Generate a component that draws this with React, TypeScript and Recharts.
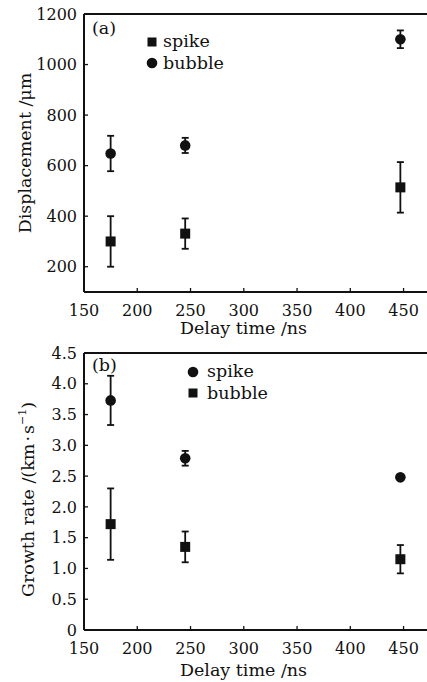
import React from "react";
import {
  ScatterChart,
  Scatter,
  XAxis,
  YAxis,
  ErrorBar,
  ReferenceLine,
} from "recharts";

const delayTimes = [175, 245, 447];
const xTicks = [150, 200, 250, 300, 350, 400, 450];

// panel (a) displacement
const dispSpike = [300, 331, 514];
const dispSpikeErr = [100, 60, 100];
const dispBubble = [648, 680, 1100];
const dispBubbleErr = [70, 30, 35];
const dispTicks = [200, 400, 600, 800, 1000, 1200];

// panel (b) growth rate
const rateSpike = [3.73, 2.79, 2.48];
const rateSpikeErr = [0.4, 0.12, 0.04];
const rateBubble = [1.72, 1.35, 1.15];
const rateBubbleErr = [0.58, 0.25, 0.23];
const rateTicks = [0, 0.5, 1, 1.5, 2, 2.5, 3, 3.5, 4, 4.5];

const INK = "#111";
const FONT = "'DejaVu Serif', serif";

const toPoints = (ys: number[], errs: number[]) =>
  delayTimes.map((x, i) => ({ x, y: ys[i], err: errs[i] }));

const SquareDot = (props: any) => {
  const { cx, cy } = props;
  if (cx == null || cy == null) return null;
  return <rect x={cx - 5} y={cy - 5} width={10} height={10} fill={INK} />;
};

const CircleDot = (props: any) => {
  const { cx, cy } = props;
  if (cx == null || cy == null) return null;
  return <circle cx={cx} cy={cy} r={5.3} fill={INK} />;
};

function LegendBox({
  items,
  gap,
  left,
  top,
}: {
  items: { name: string; shape: "square" | "circle" }[];
  gap: number;
  left: number;
  top: number;
}) {
  return (
    <div
      style={{
        position: "absolute",
        left,
        top,
        fontFamily: FONT,
        fontSize: 17.5,
        color: INK,
      }}
    >
      {items.map((it) => (
        <div
          key={it.name}
          style={{ display: "flex", alignItems: "center", height: 21.5 }}
        >
          <svg width={14} height={14} style={{ marginRight: gap }}>
            {it.shape === "square" ? (
              <rect x={2.5} y={2.5} width={9} height={9} fill={INK} />
            ) : (
              <circle cx={7} cy={7} r={5.3} fill={INK} />
            )}
          </svg>
          <span style={{ lineHeight: "21px" }}>{it.name}</span>
        </div>
      ))}
    </div>
  );
}

const yLabel = (text: React.ReactNode, dxPos: number, shift: number) => (props: any) => {
  const vb = props.viewBox;
  const x = vb.x + dxPos;
  const y = vb.y + vb.height / 2 + shift;
  return (
    <text
      x={x}
      y={y}
      transform={`rotate(-90, ${x}, ${y})`}
      textAnchor="middle"
      dominantBaseline="central"
      fontFamily={FONT}
      fontSize={17.5}
      fill={INK}
    >
      {text}
    </text>
  );
};

const tickStyle = { fontFamily: FONT, fontSize: 16, fill: INK };

function Panel({
  top,
  height,
  marginTop,
  xAxisHeight,
  yDomain,
  yTicks,
  yFmt,
  yTitle,
  yTitleX,
  yTitleShift,
  tag,
  series,
  legendItems,
  legendLeft,
  legendTop,
  legendGap,
}: any) {
  return (
    <div style={{ position: "absolute", left: 0, top, width: 427, height }}>
      <ScatterChart
        width={427}
        height={height}
        margin={{ top: marginTop, right: 0, bottom: 0, left: 0 }}
        style={{ fontFamily: FONT }}
      >
        <XAxis
          type="number"
          dataKey="x"
          domain={[150, 472]}
          ticks={xTicks}
          allowDataOverflow
          height={xAxisHeight}
          tick={tickStyle}
          tickSize={-4}
          tickMargin={17}
          axisLine={{ stroke: INK, strokeWidth: 2 }}
          tickLine={{ stroke: INK, strokeWidth: 1.3 }}
          label={{
            value: "Delay time /ns",
            position: "insideBottom",
            offset: 6,
            dx: -12,
            style: { fontFamily: FONT, fontSize: 17.5, fill: INK },
          }}
        />
        <YAxis
          type="number"
          dataKey="y"
          domain={yDomain}
          ticks={yTicks}
          allowDataOverflow
          width={84}
          tick={tickStyle}
          tickFormatter={yFmt}
          tickSize={-4}
          tickMargin={11}
          axisLine={{ stroke: INK, strokeWidth: 2 }}
          tickLine={{ stroke: INK, strokeWidth: 1.3 }}
          label={{ content: yLabel(yTitle, yTitleX, yTitleShift) }}
        />
        <ReferenceLine y={yDomain[1]} stroke={INK} strokeWidth={2} />
        {series.map((s: any) => (
          <Scatter
            key={s.name}
            name={s.name}
            data={s.data}
            shape={s.shape === "square" ? SquareDot : CircleDot}
            isAnimationActive={false}
          >
            <ErrorBar
              dataKey="err"
              direction="y"
              width={3.5}
              stroke={INK}
              strokeWidth={1.8}
            />
          </Scatter>
        ))}
      </ScatterChart>
      <LegendBox
        items={legendItems}
        gap={legendGap}
        left={legendLeft}
        top={legendTop}
      />
      <div
        style={{
          position: "absolute",
          left: 92,
          top: tag.top,
          fontFamily: FONT,
          fontSize: 17.5,
          color: INK,
          lineHeight: "20px",
        }}
      >
        {tag.text}
      </div>
    </div>
  );
}

export default function App() {
  return (
    <div
      style={{
        position: "absolute",
        left: 0,
        top: 0,
        width: 427,
        height: 682,
        background: "#fff",
        overflow: "hidden",
      }}
    >
      <Panel
        top={0}
        height={340}
        marginTop={14}
        xAxisHeight={48}
        yDomain={[100, 1200]}
        yTicks={dispTicks}
        yFmt={(v: number) => String(v)}
        yTitle="Displacement /μm"
        yTitleX={25}
        yTitleShift={0}
        tag={{ text: "(a)", top: 18 }}
        series={[
          { name: "spike", shape: "square", data: toPoints(dispSpike, dispSpikeErr) },
          { name: "bubble", shape: "circle", data: toPoints(dispBubble, dispBubbleErr) },
        ]}
        legendItems={[
          { name: "spike", shape: "square" },
          { name: "bubble", shape: "circle" },
        ]}
        legendLeft={145}
        legendTop={31}
        legendGap={4}
      />
      <Panel
        top={340}
        height={342}
        marginTop={13}
        xAxisHeight={52}
        yDomain={[0, 4.5]}
        yTicks={rateTicks}
        yFmt={(v: number) => (v === 0 ? "0" : v.toFixed(1))}
        yTitle={
          <>
            Growth rate /(km
            <tspan dx={2}>·</tspan>
            <tspan dx={2}>s</tspan>
            <tspan dy={-6} fontSize={11}>
              −1
            </tspan>
            <tspan dy={6}>)</tspan>
          </>
        }
        yTitleX={28}
        yTitleShift={8}
        tag={{ text: "(b)", top: 15 }}
        series={[
          { name: "spike", shape: "circle", data: toPoints(rateSpike, rateSpikeErr) },
          { name: "bubble", shape: "square", data: toPoints(rateBubble, rateBubbleErr) },
        ]}
        legendItems={[
          { name: "spike", shape: "circle" },
          { name: "bubble", shape: "square" },
        ]}
        legendLeft={186}
        legendTop={21}
        legendGap={7}
      />
    </div>
  );
}
